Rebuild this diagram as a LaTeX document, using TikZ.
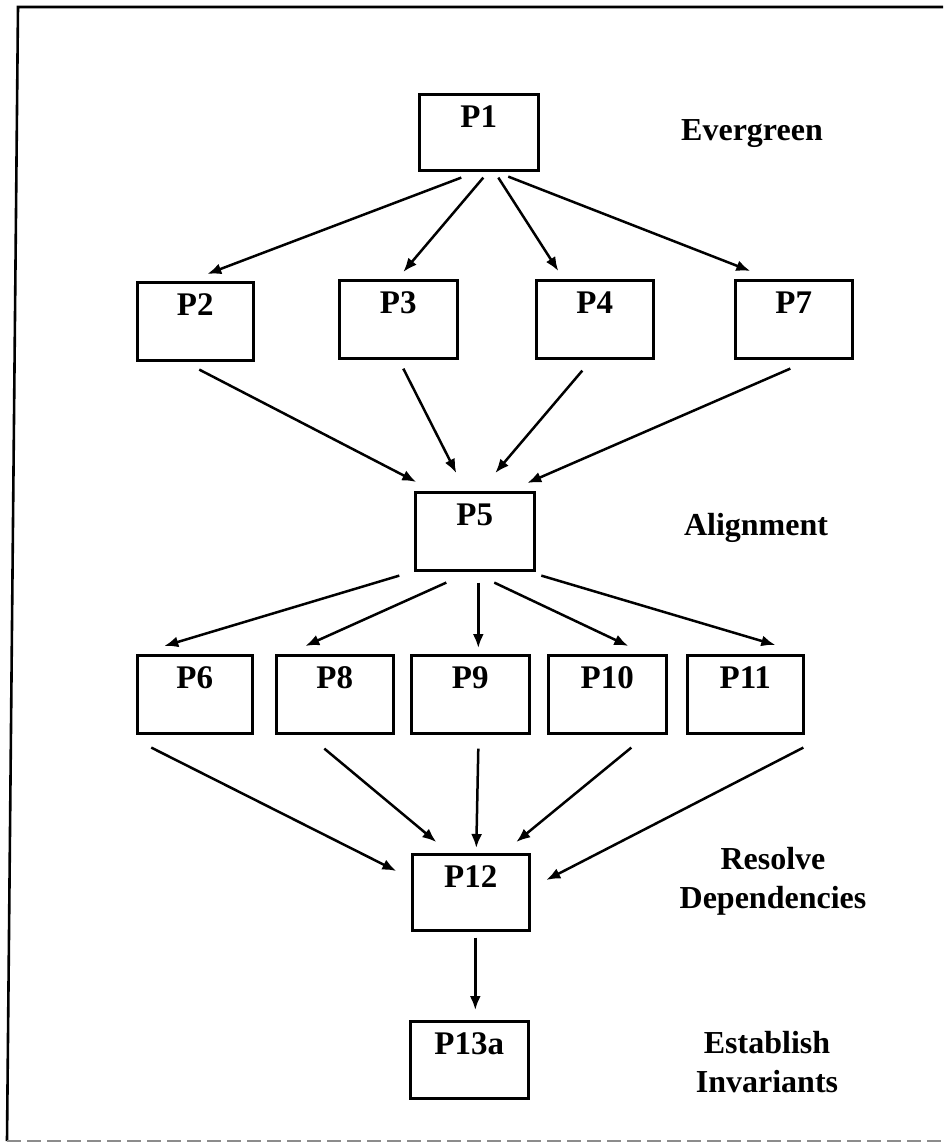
\documentclass[tikz,border=0pt]{standalone}
\usepackage{fontspec}
\setmainfont{Liberation Serif}
\usetikzlibrary{calc,arrows.meta}
\begin{document}
\begin{tikzpicture}[x=1pt,y=-1pt,
  stagebox/.style={draw,line width=2.6pt,inner xsep=0pt,inner ysep=0pt,
    anchor=north west,font=\fontsize{33}{36}\selectfont\bfseries,
    text height=33pt},
  flow/.style={line width=2.5pt,-{Latex[length=14pt,width=11pt]}},
  phase/.style={font=\fontsize{32}{38.5}\selectfont\bfseries,align=center,anchor=base}]
\useasboundingbox (0,0) rectangle (943,1143);
% outer frame (open on the right)
\draw[line width=2.6pt] (943,7) -- (18,7) -- (7,1141);
\draw[line width=2pt,black!45,dash pattern=on 14pt off 6pt] (7,1141) -- (943,1141);
% boxes: left, top, width, height
\newcommand{\stage}[6]{\node[stagebox,minimum width=#4pt,text depth=#5pt-33pt] (#1) at (#2,#3) {#6};}
\stage{P1}{418}{93}{119}{76}{P1}
\stage{P2}{136}{281}{116}{78}{P2}
\stage{P3}{338}{279}{118}{78}{P3}
\stage{P4}{535}{279}{117}{78}{P4}
\stage{P7}{734}{279}{117}{78}{P7}
\stage{P5}{414}{491}{119}{78}{P5}
\stage{P6}{136}{654}{115}{78}{P6}
\stage{P8}{275}{654}{117}{78}{P8}
\stage{P9}{410}{654}{118}{78}{P9}
\stage{P10}{547}{654}{118}{78}{P10}
\stage{P11}{686}{654}{116}{78}{P11}
\stage{P12}{411}{853}{117}{76}{P12}
\stage{P13a}{409}{1020}{118}{77}{P13a}
% phase labels
\node[phase] (evergreen) at (752,140) {Evergreen};
\node[phase] (alignment) at (756,535) {Alignment};
\node[phase] (resolve) at (773,908) {Resolve\\Dependencies};
\node[phase] (establish) at (767,1092) {Establish\\Invariants};
% P1 fans out
\draw[flow] ($(P1.south)+(-17.5,6)$) -- ($(P2.north)+(12,-7)$);
\draw[flow] ($(P1.south)+(4.5,6)$) -- ($(P3.north)+(5,-7)$);
\draw[flow] ($(P1.south)+(19.5,6)$) -- ($(P4.north)+(-36.5,-8)$);
\draw[flow] ($(P1.south)+(29.5,5)$) -- ($(P7.north)+(-43.5,-8)$);
% into P5
\draw[flow] ($(P2.south)+(4,8)$) -- ($(P5.north)+(-58.5,-9)$);
\draw[flow] ($(P3.south)+(5,9)$) -- ($(P5.north)+(-18.5,-18)$);
\draw[flow] ($(P4.south)+(-12.5,11)$) -- ($(P5.north)+(20.5,-18)$);
\draw[flow] ($(P7.south)+(-3.5,9)$) -- ($(P5.north)+(52.5,-8)$);
% P5 fans out
\draw[flow] ($(P5.south)+(-75.5,4)$) -- ($(P6.north)+(-30.5,-8)$);
\draw[flow] ($(P5.south)+(-28.5,11)$) -- ($(P8.north)+(-29.5,-8)$);
\draw[flow] ($(P5.south)+(3.5,11)$) -- ($(P9.north)+(8,-6)$);
\draw[flow] ($(P5.south)+(19.5,11)$) -- ($(P10.north)+(21,-8)$);
\draw[flow] ($(P5.south)+(66.5,4)$) -- ($(P11.north)+(30,-9)$);
% into P12
\draw[flow] ($(P6.south)+(-43.5,13)$) -- ($(P12.north)+(-74.5,18)$);
\draw[flow] ($(P8.south)+(-10.5,14)$) -- ($(P12.north)+(-34.5,-11)$);
\draw[flow] ($(P9.south)+(8,14)$) -- ($(P12.north)+(5.5,-5)$);
\draw[flow] ($(P10.south)+(24,13)$) -- ($(P12.north)+(45.5,-11)$);
\draw[flow] ($(P11.south)+(58,13)$) -- ($(P12.north)+(75.5,27)$);
% P12 to P13a
\draw[flow] ($(P12.south)+(4.5,6)$) -- ($(P13a.north)+(6,-10)$);
\end{tikzpicture}
\end{document}
